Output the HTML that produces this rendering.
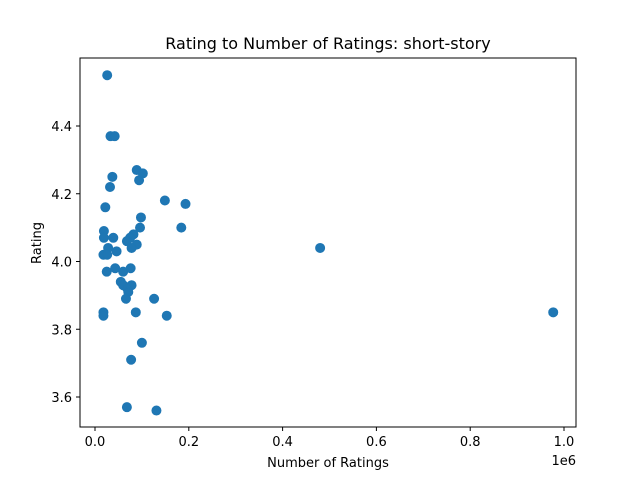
<!DOCTYPE html>
<html><head><meta charset="utf-8"><style>
body{margin:0;background:#fff}
svg text{font-family:"DejaVu Sans","Liberation Sans",sans-serif;fill:#000}
</style></head><body>
<svg id="chart" width="640" height="480" xmlns="http://www.w3.org/2000/svg">
<rect width="640" height="480" fill="#fff"/>
<text x="328" y="49" font-size="16" text-anchor="middle">Rating to Number of Ratings: short-story</text>
<g id="marks"></g>
<rect x="80" y="58" width="496" height="369" fill="none" stroke="#000" stroke-width="1"/>
<g id="axes"></g>
<text x="328" y="467" font-size="13" text-anchor="middle">Number of Ratings</text>
<text transform="translate(41,243) rotate(-90)" font-size="13" text-anchor="middle">Rating</text>
<text x="576" y="465" font-size="13" text-anchor="end">1e6</text>
</svg>
<script>
const ratingsCount=[26,33,42,89,102,94,37,32,149,193,22,98,96,184,19,19,39,82,75,68,89,78,28,46,18,26,25,43,60,76,55,60,78,69,71,66,126,18,18,87,153,100,77,68,131,480,977];
const ratings=[4.55,4.37,4.37,4.27,4.26,4.24,4.25,4.22,4.18,4.17,4.16,4.13,4.10,4.10,4.09,4.07,4.07,4.08,4.07,4.06,4.05,4.04,4.04,4.03,4.02,4.02,3.97,3.98,3.97,3.98,3.94,3.93,3.93,3.92,3.91,3.89,3.89,3.85,3.84,3.85,3.84,3.76,3.71,3.57,3.56,4.04,3.85];
const xTicks=[0,0.2,0.4,0.6,0.8,1.0];
const yTicks=[3.6,3.8,4.0,4.2,4.4];
const NS="http://www.w3.org/2000/svg";
function xs(k){return 95+(k/1000)*469;}
function ys(r){return 397-(r-3.6)*338.75;}
const marks=document.getElementById('marks');
ratingsCount.forEach((c,i)=>{
  const el=document.createElementNS(NS,'circle');
  el.setAttribute('cx',xs(c));el.setAttribute('cy',ys(ratings[i]));el.setAttribute('r',4.5);
  el.setAttribute('fill','#1f77b4');el.setAttribute('stroke','#1f77b4');
  
  
  marks.appendChild(el);
});
const axes=document.getElementById('axes');
xTicks.forEach(t=>{
  const x=xs(t*1000);
  const l=document.createElementNS(NS,'line');
  l.setAttribute('x1',x);l.setAttribute('x2',x);l.setAttribute('y1',427);l.setAttribute('y2',431);l.setAttribute('stroke','#000');
  
  
  axes.appendChild(l);
  const tx=document.createElementNS(NS,'text');
  tx.setAttribute('x',x);tx.setAttribute('y',446);tx.setAttribute('font-size','13');tx.setAttribute('text-anchor','middle');
  tx.textContent=t.toFixed(1);
  
  
  axes.appendChild(tx);
});
yTicks.forEach(t=>{
  const y=ys(t);
  const l=document.createElementNS(NS,'line');
  l.setAttribute('x1',76);l.setAttribute('x2',80);l.setAttribute('y1',y);l.setAttribute('y2',y);l.setAttribute('stroke','#000');
  
  
  axes.appendChild(l);
  const tx=document.createElementNS(NS,'text');
  tx.setAttribute('x',72);tx.setAttribute('y',y+5);tx.setAttribute('font-size','13');tx.setAttribute('text-anchor','end');
  tx.textContent=t.toFixed(1);
  
  
  axes.appendChild(tx);
});
</script>
</body></html>
